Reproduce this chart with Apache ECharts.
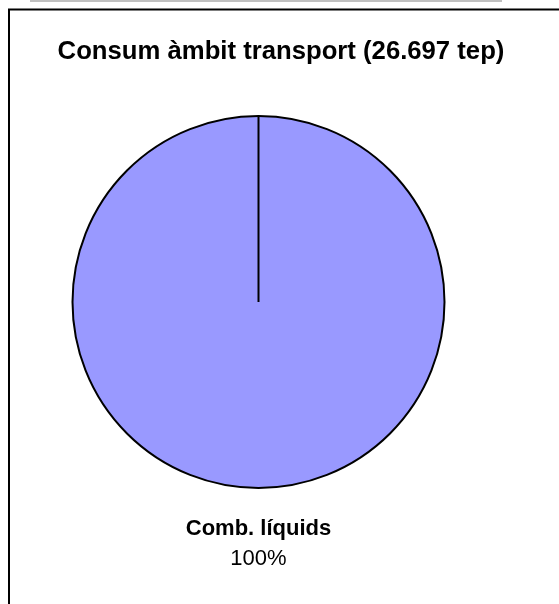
<!DOCTYPE html>
<html>
<head>
<meta charset="utf-8">
<script src="https://cdn.jsdelivr.net/npm/echarts@6/dist/echarts.min.js"></script>
<style>
  html, body { margin: 0; padding: 0; background: #fff; }
  #chart { width: 559px; height: 604px; }
</style>
</head>
<body>
<div id="chart"></div>
<script>
  // dades del gràfic
  var categories = ['Comb. líquids'];
  var values = [26697];
  var percentLabels = ['100%'];
  var titleText = 'Consum àmbit transport (26.697 tep)';

  var cx = 258.5, cy = 302, radius = 186;

  var chart = echarts.init(document.getElementById('chart'));
  var option = {
    animation: false,
    title: {
      text: titleText,
      left: 276,
      top: 34,
      textAlign: 'center',
      textStyle: {
        fontFamily: 'Liberation Sans, Arial, sans-serif',
        fontWeight: 'bold',
        fontSize: 25.7,
        color: '#000'
      }
    },
    graphic: [
      // barra grisa de dalt
      { type: 'rect', shape: { x: 30, y: 0, width: 472, height: 2 }, style: { fill: '#c0c0c0' }, silent: true },
      // marc del gràfic
      { type: 'rect', shape: { x: 9, y: 9.5, width: 600, height: 650 }, style: { fill: null, stroke: '#000', lineWidth: 2 }, silent: true },
      // vora radial de la porció
      { type: 'line', shape: { x1: cx, y1: cy - radius, x2: cx, y2: cy }, style: { stroke: '#000', lineWidth: 2 }, z: 10, silent: true }
    ],
    series: [
      {
        type: 'pie',
        center: [cx, cy],
        radius: radius,
        startAngle: 90,
        clockwise: true,
        silent: true,
        itemStyle: { color: '#9999ff', borderColor: '#000', borderWidth: 2 },
        label: {
          show: true,
          position: 'center',
          offset: [0, 242],
          formatter: function (p) {
            return '{b|' + p.name + '}\n{c|' + percentLabels[p.dataIndex] + '}';
          },
          rich: {
            b: { fontFamily: 'Liberation Sans, Arial, sans-serif', fontWeight: 'bold', fontSize: 22, color: '#000', lineHeight: 30 },
            c: { fontFamily: 'Liberation Sans, Arial, sans-serif', fontSize: 22, color: '#000', lineHeight: 30 }
          }
        },
        labelLine: { show: false },
        data: categories.map(function (c, i) { return { name: c, value: values[i] }; })
      }
    ]
  };
  chart.setOption(option);
</script>
</body>
</html>
